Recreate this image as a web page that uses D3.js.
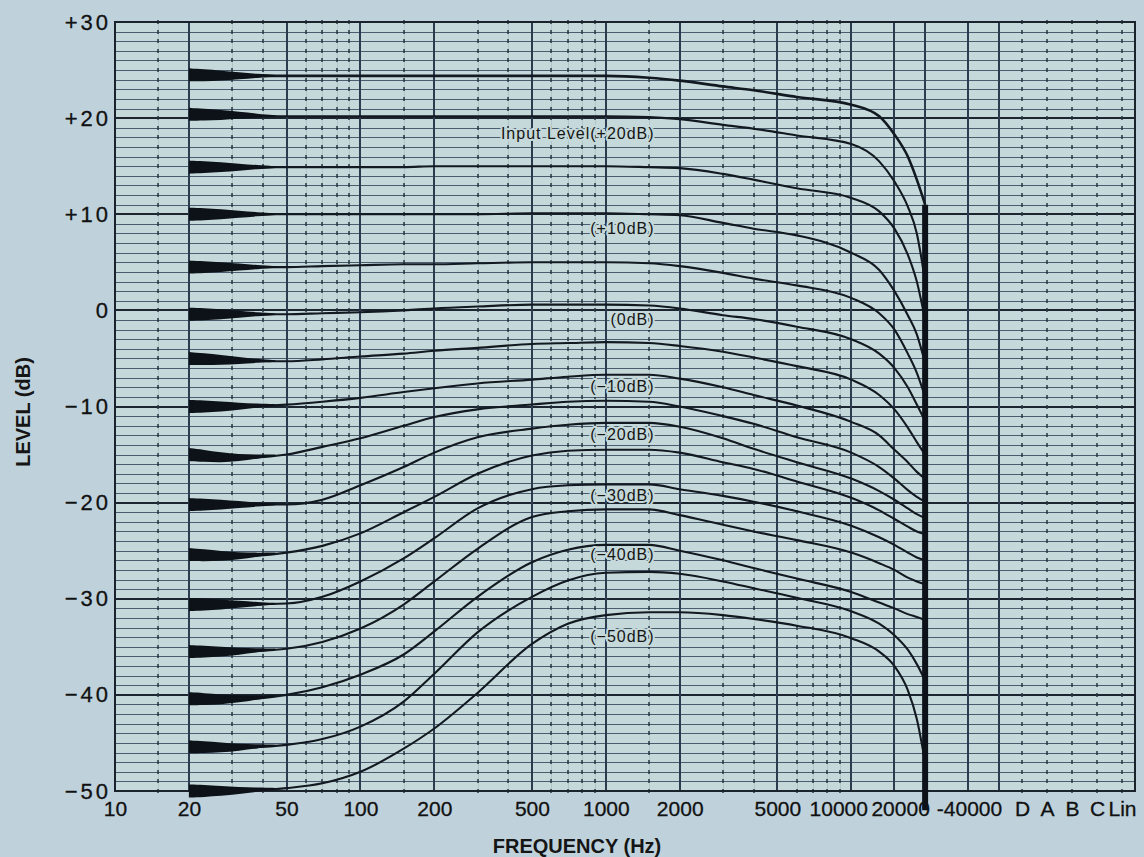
<!DOCTYPE html>
<meta charset="utf-8">
<style>
  body { margin: 0; background: #bfd2dc; }
  #chart svg { display: block; }
</style>
<body>
<div id="chart"></div>

<script src="https://d3js.org/d3.v7.min.js"></script>
<script>

// frequencies (Hz) at which every trace was read
var freqs = [20, 30, 50, 70, 100, 150, 200, 300, 500, 700, 1000, 1500, 2000, 3000, 4000, 6000, 10000, 13000, 15000, 17000, 18500, 20000];

// output level (dB) of each trace, from the top trace down
var trace1  = [24.5, 24.4, 24.4, 24.4, 24.4, 24.4, 24.4, 24.4, 24.4, 24.4, 24.4, 24.2, 23.9, 23.3, 22.9, 22.2, 21.4, 20.2, 18.3, 16.0, 13.6, 11.0];
var trace2  = [20.4, 20.3, 20.2, 20.2, 20.2, 20.2, 20.2, 20.2, 20.2, 20.2, 20.2, 20.1, 19.9, 19.3, 18.9, 18.2, 17.3, 15.5, 13.4, 10.8, 8.0, 3.0];
var trace3  = [14.9, 14.9, 14.9, 14.9, 14.9, 14.9, 15.0, 15.0, 15.0, 15.0, 15.0, 14.9, 14.8, 14.2, 13.6, 12.7, 11.7, 10.3, 8.5, 5.8, 3.0, -1.0];
var trace4  = [10.0, 10.0, 10.0, 10.0, 10.0, 10.0, 10.0, 10.0, 10.1, 10.1, 10.1, 10.0, 9.9, 9.1, 8.5, 7.8, 6.0, 4.2, 2.0, -0.5, -2.5, -5.5];
var trace5  = [4.5, 4.5, 4.5, 4.6, 4.7, 4.8, 4.8, 4.9, 5.0, 5.0, 5.0, 4.9, 4.6, 3.9, 3.3, 2.6, 1.3, -0.3, -2.0, -4.5, -6.5, -9.0];
var trace6  = [-0.4, -0.4, -0.4, -0.3, -0.2, 0.0, 0.2, 0.4, 0.6, 0.6, 0.6, 0.5, 0.2, -0.5, -0.9, -1.7, -3.0, -4.5, -6.0, -8.0, -9.8, -11.5];
var trace7  = [-5.0, -5.2, -5.3, -5.1, -4.8, -4.5, -4.2, -3.9, -3.5, -3.4, -3.3, -3.4, -3.7, -4.3, -4.9, -5.8, -7.2, -8.8, -10.3, -12.2, -13.7, -15.0];
var trace8  = [-10.0, -10.0, -9.8, -9.5, -9.1, -8.5, -8.1, -7.6, -7.2, -6.9, -6.7, -6.7, -7.1, -8.0, -8.8, -9.9, -11.6, -13.0, -14.5, -15.8, -16.8, -17.5];
var trace9  = [-15.0, -15.4, -15.0, -14.2, -13.3, -12.0, -11.1, -10.3, -9.8, -9.5, -9.4, -9.5, -10.0, -11.0, -11.8, -13.2, -14.8, -16.3, -17.5, -18.7, -19.4, -19.9];
var trace10 = [-20.2, -20.2, -20.2, -19.7, -18.2, -16.3, -14.8, -13.2, -12.3, -11.9, -11.7, -11.7, -12.1, -13.3, -14.4, -15.8, -17.5, -18.8, -19.7, -20.6, -21.2, -21.6];
var trace11 = [-25.4, -25.6, -25.2, -24.5, -23.2, -21.0, -19.4, -17.0, -15.1, -14.6, -14.5, -14.5, -14.8, -15.8, -16.5, -17.8, -19.5, -20.8, -21.7, -22.5, -23.0, -23.3];
var trace12 = [-30.6, -30.6, -30.5, -29.8, -28.2, -25.8, -23.7, -20.6, -18.6, -18.2, -18.1, -18.1, -18.6, -19.3, -19.9, -20.9, -22.4, -23.6, -24.4, -25.2, -25.7, -26.0];
var trace13 = [-35.5, -35.5, -35.2, -34.5, -33.1, -30.6, -28.2, -24.8, -21.5, -20.9, -20.7, -20.7, -21.3, -22.3, -23.0, -23.9, -25.2, -26.3, -27.0, -27.8, -28.2, -28.5];
var trace14 = [-40.4, -40.5, -40.0, -39.2, -37.9, -35.8, -33.4, -29.8, -26.2, -24.9, -24.4, -24.4, -25.0, -26.0, -26.8, -27.9, -29.3, -30.4, -31.0, -31.6, -31.9, -32.2];
var trace15 = [-45.4, -45.5, -45.2, -44.6, -43.3, -40.7, -37.8, -33.5, -29.8, -28.1, -27.3, -27.2, -27.4, -28.2, -28.9, -29.9, -31.3, -32.6, -33.8, -35.3, -36.8, -38.5];
var trace16 = [-50.0, -50.0, -49.7, -49.2, -48.0, -45.6, -43.5, -39.8, -34.7, -32.6, -31.7, -31.4, -31.4, -31.7, -32.1, -32.8, -34.1, -35.5, -37.0, -39.5, -42.5, -47.0];

var traces = [trace1, trace2, trace3, trace4, trace5, trace6, trace7, trace8,
              trace9, trace10, trace11, trace12, trace13, trace14, trace15, trace16];

// input level labels written under every other trace
var labelText  = ["Input Level(+20dB)", "(+10dB)", "(0dB)", "(\u221210dB)", "(\u221220dB)", "(\u221230dB)", "(\u221240dB)", "(\u221250dB)"];
var labelLevel = [18.4, 8.5, -0.9, -7.9, -12.9, -19.3, -25.4, -33.9];
var labelFreq  = 1580;

// axis ticks
var levelTicks = [30, 20, 10, 0, -10, -20, -30, -40, -50];
var freqTicks  = [10, 20, 50, 100, 200, 500, 1000, 2000, 5000, 10000, 20000, 40000];
var weightings = ["D", "A", "B", "C", "Lin"];

// the pen drop at the top of the band
var cutoffFreq  = 20000;
var cutoffLevel = [11, -52];


var width = 1144, height = 857;
var paper = "#c6d9da";

var svg = d3.select("#chart")
  .append("svg")
    .attr("width", width)
    .attr("height", height)
    .style("font-family", "'Liberation Sans', Arial, sans-serif");

svg.append("rect")
  .attr("width", width).attr("height", height)
  .attr("fill", "#bfd2dc");

var x = d3.scaleLog().domain([10, 40000]).range([115, 999]);
var y = d3.scaleLinear().domain([-50, 30]).range([791, 22]);
var xw = d3.scalePoint().domain(weightings).range([1022, 1122]);
var right = 1135;

// paper
svg.append("rect")
  .attr("x", x(10)).attr("y", y(30))
  .attr("width", right - x(10)).attr("height", y(-50) - y(30))
  .attr("fill", paper);

var grid = svg.append("g").attr("shape-rendering", "crispEdges");

// faint minor verticals and the "+" marks on them
var minorFreqs = [];
[10, 100, 1000].forEach(function(dec) {
  [1.5, 3, 4, 6, 7, 8, 9].forEach(function(m) { minorFreqs.push(m * dec); });
});
var solidFreqs = [20, 50, 100, 200, 500, 1000, 2000, 5000, 10000, 15000, 20000, 30000, 40000];
var levels = d3.range(-50, 31);

grid.selectAll(".minorV")
  .data(minorFreqs)
  .enter().append("line")
    .attr("x1", d => Math.round(x(d))).attr("x2", d => Math.round(x(d)))
    .attr("y1", y(30)).attr("y2", y(-50))
    .attr("stroke", "#3c5064")
    .attr("stroke-opacity", 0.14)
    .attr("stroke-width", 1);

// horizontal rulings, every dB
grid.selectAll(".hline")
  .data(levels)
  .enter().append("line")
    .attr("x1", x(10)).attr("x2", right)
    .attr("y1", d => Math.round(y(d))).attr("y2", d => Math.round(y(d)))
    .attr("stroke", d => d % 10 === 0 ? "#1c2530" : "#34475a")
    .attr("stroke-width", d => d % 10 === 0 ? 2 : 1)
    .attr("stroke-opacity", d => d % 10 === 0 ? 1 : 0.85);

grid.selectAll(".solidV")
  .data(solidFreqs)
  .enter().append("line")
    .attr("x1", d => Math.round(x(d))).attr("x2", d => Math.round(x(d)))
    .attr("y1", y(30)).attr("y2", y(-50))
    .attr("stroke", "#2c3c4e")
    .attr("stroke-width", 1.5);

// little "+" marks
var markX = minorFreqs.map(x).concat(weightings.map(xw));
var marks = [];
markX.forEach(function(px) {
  levels.forEach(function(l) { marks.push([px, l]); });
});
grid.selectAll(".mark")
  .data(marks)
  .enter().append("line")
    .attr("x1", d => Math.round(d[0])).attr("x2", d => Math.round(d[0]))
    .attr("y1", d => Math.round(y(d[1])) - 2).attr("y2", d => Math.round(y(d[1])) + 2)
    .attr("stroke", "#26333f")
    .attr("stroke-opacity", 0.75)
    .attr("stroke-width", 1.5);

// frame
svg.append("rect")
  .attr("x", x(10)).attr("y", y(30))
  .attr("width", right - x(10)).attr("height", y(-50) - y(30))
  .attr("fill", "none")
  .attr("stroke", "#1a222b")
  .attr("stroke-width", 2);

// axes
function fmtLevel(d) {
  if (d > 0) return "+" + d;
  if (d < 0) return "\u2212" + Math.abs(d);
  return "0";
}

var yAxis = svg.append("g")
  .attr("transform", "translate(" + x(10) + ",0)")
  .call(d3.axisLeft(y).tickValues(levelTicks).tickFormat(fmtLevel).tickSize(0).tickPadding(4));
yAxis.select(".domain").remove();

var xAxis = svg.append("g")
  .attr("transform", "translate(0," + y(-50) + ")")
  .call(d3.axisBottom(x).tickValues(freqTicks)
        .tickFormat(d => d === 40000 ? "-40000" : String(d))
        .tickSize(0).tickPadding(10));
xAxis.select(".domain").remove();
// the last labels are squeezed together on the chart paper
xAxis.selectAll("text")
  .attr("dx", d => d === 10000 ? -13 : d === 20000 ? -25 : d === 40000 ? -30 : 0);

var wAxis = svg.append("g")
  .attr("transform", "translate(0," + y(-50) + ")")
  .call(d3.axisBottom(xw).tickSize(0).tickPadding(10));
wAxis.select(".domain").remove();

svg.selectAll(".tick text")
  .attr("font-family", "'Liberation Sans', Arial, sans-serif")
  .attr("font-size", 21)
  .attr("fill", "#111")
  .attr("stroke", "#111")
  .attr("stroke-width", 0.3);

yAxis.selectAll("text")
  .attr("font-size", 22)
  .attr("letter-spacing", 3);

svg.append("text")
  .attr("x", 577).attr("y", 853)
  .attr("text-anchor", "middle")
  .attr("font-size", 20)
  .attr("font-weight", "bold")
  .attr("fill", "#151515")
  .text("FREQUENCY (Hz)");

svg.append("text")
  .attr("transform", "translate(30,412) rotate(-90)")
  .attr("text-anchor", "middle")
  .attr("font-size", 20)
  .attr("font-weight", "bold")
  .attr("fill", "#151515")
  .text("LEVEL (dB)");

// traces
function levelAt(t, f) {
  var i = Math.max(1, d3.bisectLeft(freqs, f));
  var a = Math.log(freqs[i - 1]), b = Math.log(freqs[i]);
  var k = (Math.log(f) - a) / (b - a);
  return t[i - 1] + (t[i] - t[i - 1]) * k;
}

var line = d3.line()
  .x((d, i) => x(freqs[i]))
  .y(d => y(d))
  .curve(d3.curveMonotoneX);

svg.selectAll(".trace")
  .data(traces)
  .enter().append("path")
    .attr("d", line)
    .attr("fill", "none")
    .attr("stroke", "#121920")
    .attr("stroke-width", (d, i) => i === 0 ? 2.6 : 2.1)
    .attr("stroke-linejoin", "round");

// heavy ink where the pen starts at 20 Hz
var blobF = [20, 23, 27, 32, 38, 45];
var blobW = [6.5, 6, 5, 3.5, 2, 0.8];
var blob = d3.area()
  .x(d => x(d.f))
  .y0(d => y(d.v) - d.w)
  .y1(d => y(d.v) + d.w)
  .curve(d3.curveBasis);

svg.selectAll(".blob")
  .data(traces)
  .enter().append("path")
    .attr("d", t => blob(blobF.map((f, j) => ({ f: f, v: levelAt(t, f), w: blobW[j] }))))
    .attr("fill", "#0d1218");

// input level labels, printed over the rulings
svg.selectAll(".lvl")
  .data(labelText)
  .enter().append("text")
    .attr("x", x(labelFreq))
    .attr("y", (d, i) => y(labelLevel[i]))
    .attr("dy", "0.35em")
    .attr("text-anchor", "end")
    .attr("font-size", 16)
    .attr("letter-spacing", 1)
    .attr("fill", "#151515")
    .attr("stroke", paper)
    .attr("stroke-width", 4)
    .attr("stroke-linejoin", "round")
    .attr("paint-order", "stroke")
    .text(d => d);

// vertical pen drop at the cutoff
svg.append("line")
  .attr("x1", x(cutoffFreq)).attr("x2", x(cutoffFreq))
  .attr("y1", y(cutoffLevel[0])).attr("y2", y(cutoffLevel[1]))
  .attr("stroke", "#0d1218")
  .attr("stroke-width", 6);

</script>
</body>
